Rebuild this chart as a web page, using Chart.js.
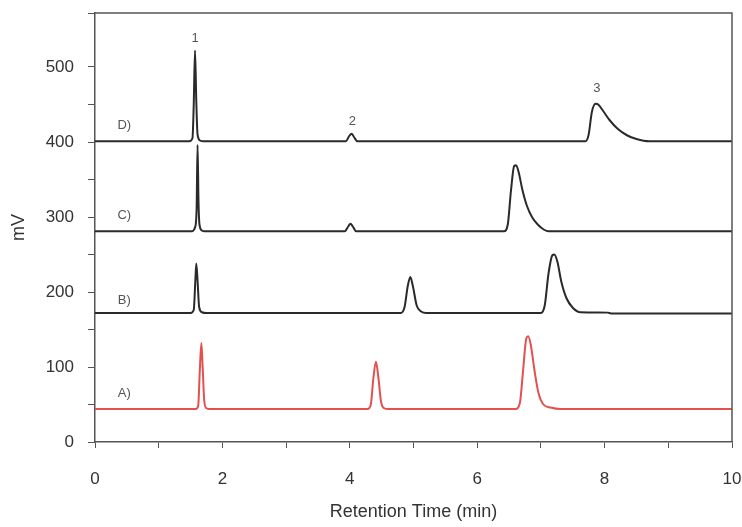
<!DOCTYPE html>
<html>
<head>
<meta charset="utf-8">
<script src="https://cdn.jsdelivr.net/npm/chart.js@4"></script>
<style>
  html, body { margin: 0; padding: 0; background: #fff; }
  #wrap { width: 742px; height: 527px; }
</style>
</head>
<body>
<div id="wrap"><canvas id="chart"></canvas></div>
<script>
// retention time (min), signal (mV)
const traceA = [[0,44],[1.58,44],[1.62,48],[1.645,95],[1.67,132],[1.69,100],[1.715,55],[1.75,45],[1.8,44],
  [4.28,44],[4.33,50],[4.37,85],[4.41,107],[4.45,85],[4.49,54],[4.54,45],[4.6,44],
  [6.6,44],[6.67,52],[6.72,95],[6.77,138],[6.8,141],[6.84,130],[6.9,95],[6.96,66],[7.04,50],[7.15,46],[7.3,44],[10,44]]
const traceB = [[0,172],[1.5,172],[1.55,176],[1.575,215],[1.59,238],[1.61,215],[1.635,180],[1.68,173],[1.75,172],
  [4.8,172],[4.86,180],[4.91,208],[4.95,220],[4.99,208],[5.05,182],[5.12,174],[5.2,172],
  [7.0,172],[7.06,182],[7.12,225],[7.18,249],[7.21,250],[7.26,240],[7.32,214],[7.4,192],[7.5,179],[7.62,173],[8.05,172.5],[8.1,171.5],[10,171.5]]
const traceC = [[0,281],[1.52,281],[1.57,286],[1.595,310],[1.61,396],[1.625,320],[1.64,290],[1.68,282],[1.72,281],
  [3.92,281],[3.98,288],[4.01,291],[4.05,287],[4.1,281],
  [6.42,281],[6.48,290],[6.53,335],[6.58,368],[6.61,369],[6.65,360],[6.71,336],[6.78,315],[6.86,300],[6.95,290],[7.05,283],[7.12,281],[10,281]]
const traceD = [[0,401],[1.48,401],[1.53,405],[1.55,450],[1.57,522],[1.59,455],[1.61,410],[1.65,402],[1.7,401],
  [3.94,401],[3.99,408],[4.03,411],[4.07,406],[4.12,401],
  [7.7,401],[7.75,410],[7.8,440],[7.86,451],[7.9,450],[7.98,441],[8.08,429],[8.2,418],[8.35,409],[8.5,404],[8.7,401],[10,401]]

const traceNames = ['A)', 'B)', 'C)', 'D)']
const traceNameAt = [[0.46, 65], [0.46, 189], [0.46, 302], [0.46, 422]]
const peakNames = ['1', '2', '3']
const peakNameAt = [[1.57, 538], [4.04, 428], [7.88, 471]]

const yTicks = [0, 100, 200, 300, 400, 500]
const xTicks = [0, 2, 4, 6, 8, 10]

const FONT = "'Liberation Sans Narrow', 'Arial Narrow', 'Liberation Sans', sans-serif"

const toXY = arr => arr.map(p => ({x: p[0], y: p[1]}))

const lineSet = (data, color) => ({
  data: toXY(data),
  borderColor: color,
  borderWidth: 2,
  pointRadius: 0,
  cubicInterpolationMode: 'monotone',
  fill: false
})

// box round the plot and the text marks inside it
const decorations = {
  id: 'decorations',
  afterDraw(chart) {
    const {ctx, chartArea: a, scales: {x, y}} = chart
    ctx.save()
    ctx.strokeStyle = '#555'
    ctx.lineWidth = 1.5
    ctx.beginPath()
    ctx.moveTo(a.left, a.top)
    ctx.lineTo(a.right, a.top)
    ctx.lineTo(a.right, a.bottom)
    ctx.stroke()
    ctx.fillStyle = '#555'
    ctx.font = '13px ' + FONT
    ctx.textAlign = 'center'
    ctx.textBaseline = 'middle'
    traceNames.forEach((t, i) => {
      ctx.fillText(t, x.getPixelForValue(traceNameAt[i][0]), y.getPixelForValue(traceNameAt[i][1]))
    })
    peakNames.forEach((t, i) => {
      ctx.fillText(t, x.getPixelForValue(peakNameAt[i][0]), y.getPixelForValue(peakNameAt[i][1]))
    })
    ctx.restore()
  }
}

new Chart(document.getElementById('chart'), {
  type: 'line',
  data: {
    datasets: [
      lineSet(traceA, '#e3514f'),
      lineSet(traceB, '#2a2a2a'),
      lineSet(traceC, '#2a2a2a'),
      lineSet(traceD, '#2a2a2a')
    ]
  },
  options: {
    responsive: true,
    maintainAspectRatio: false,
    animation: false,
    layout: {padding: {top: 13, right: 10, left: 0, bottom: 0}},
    plugins: {legend: {display: false}, tooltip: {enabled: false}},
    scales: {
      x: {
        type: 'linear',
        min: 0, max: 10,
        afterFit: s => { s.height = 85; s.paddingRight = 0; s.paddingLeft = 0 },
        border: {color: '#555', width: 1.5},
        grid: {drawOnChartArea: false, tickLength: 6, color: '#555'},
        ticks: {
          stepSize: 1,
          autoSkip: false,
          maxRotation: 0,
          padding: 21,
          color: '#333',
          font: {family: FONT, size: 17},
          callback: v => xTicks.includes(v) ? String(v) : ''
        },
        title: {display: true, text: 'Retention Time (min)', color: '#333', font: {family: FONT, size: 18}, padding: {top: 13}}
      },
      y: {
        min: 0, max: 572,
        afterFit: s => { s.width = 95; s.paddingTop = 0; s.paddingBottom = 0 },
        border: {color: '#555', width: 1.5},
        grid: {drawOnChartArea: false, tickLength: 7, color: '#555'},
        ticks: {
          stepSize: 50,
          autoSkip: false,
          padding: 14,
          color: '#333',
          font: {family: FONT, size: 17},
          callback: v => yTicks.includes(v) ? String(v) : ''
        },
        title: {display: true, text: 'mV', color: '#333', font: {family: FONT, size: 18}, padding: {top: 8, bottom: 0}}
      }
    }
  },
  plugins: [decorations]
})
</script>
</body>
</html>
